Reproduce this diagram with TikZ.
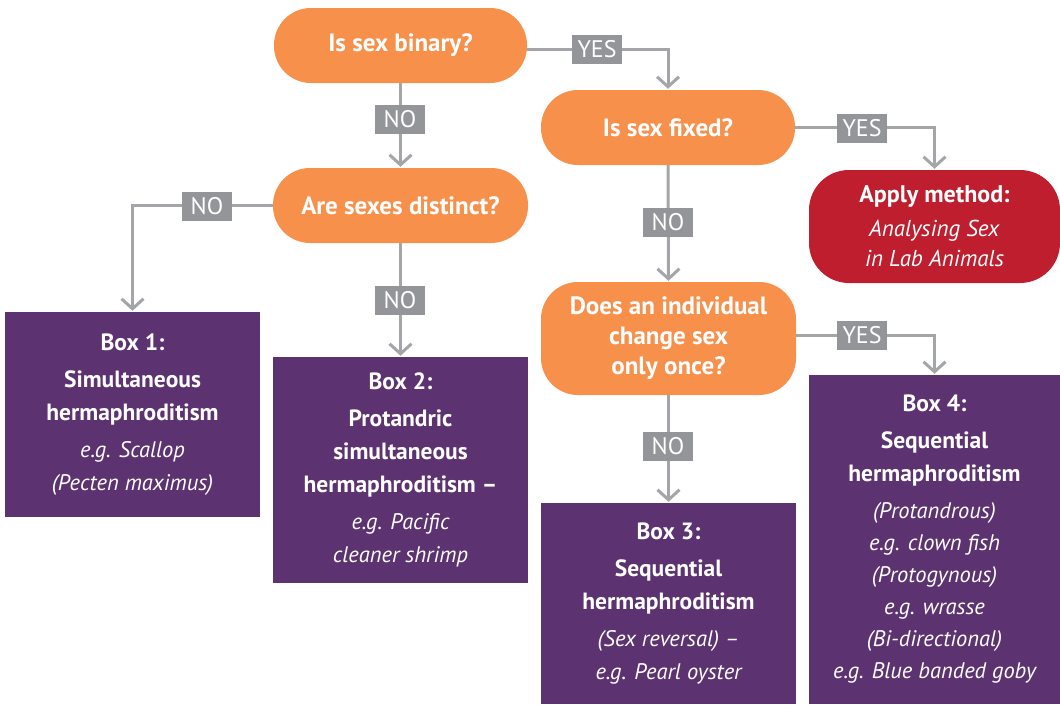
\documentclass[tikz,border=0pt]{standalone}
\usepackage{fontspec}
\setmainfont{PT Sans}
\usetikzlibrary{arrows.meta}
\definecolor{qorange}{HTML}{F6904B}
\definecolor{qred}{HTML}{BE1E2D}
\definecolor{bpurple}{HTML}{5C3370}
\definecolor{lgray}{HTML}{939598}
\definecolor{cgray}{HTML}{A3A5A8}
\newcommand{\bl}[1]{{\bfseries\fontsize{23.5}{33}\selectfont #1}}
\newcommand{\il}[1]{{\itshape\fontsize{22.5}{33}\selectfont #1}}
\begin{document}
\begin{tikzpicture}[x=1pt,y=-1pt,
  qnode/.style={fill=qorange, rounded corners=37pt, text=white, align=center, inner sep=0pt,
    font=\bfseries\fontsize{25}{30}\selectfont},
  anode/.style={fill=qred, rounded corners=40pt, text=white, align=center, inner sep=0pt,
    font=\fontsize{23}{30}\selectfont},
  bnode/.style={fill=bpurple, text=white, align=center, inner sep=0pt,
    font=\fontsize{23}{33}\selectfont},
  lab/.style={fill=lgray, text=white, inner sep=0pt, minimum width=50pt, minimum height=29pt,
    font=\fontsize{24}{24}\selectfont},
  conn/.style={draw=cgray, line width=3pt, shorten >=1pt,
    -{Straight Barb[length=10pt,width=22pt,line width=3pt]}}
]
\useasboundingbox (0,0) rectangle (1060,704);

% questions
\node[qnode, minimum width=253pt, minimum height=75pt] (q1) at (400.5,45.5) {Is sex binary?};
\node[qnode, minimum width=254pt, minimum height=75pt] (q2) at (668,127.5) {Is sex fixed?};
\node[qnode, minimum width=255pt, minimum height=75pt] (q3) at (400.5,205.5) {Are sexes distinct?};
\node[qnode, minimum width=255pt, minimum height=113pt] (q4) at (668.5,338.5)
  {Does an individual\\change sex\\only once?};
\node[anode, minimum width=251pt, minimum height=113pt] (ap) at (934.5,226.5)
  {{\bfseries\fontsize{24}{30}\selectfont Apply method:}\\[4pt]\textit{Analysing Sex}\\\textit{in Lab Animals}};

% boxes
\node[bnode, minimum width=255pt, minimum height=205pt] (b1) at (132.5,414.5)
  {\bl{Box 1:}\\[4pt]\bl{Simultaneous}\\\bl{hermaphroditism}\\[4pt]
   \il{e.g. Scallop}\\\il{(Pecten maximus)}};
\node[bnode, minimum width=255pt, minimum height=226pt] (b2) at (400.5,470)
  {\bl{Box 2:}\\[4pt]\bl{Protandric}\\\bl{simultaneous}\\\bl{hermaphroditism –}\\[4pt]
   \il{e.g. Pacific}\\\il{cleaner shrimp}};
\node[bnode, minimum width=255pt, minimum height=201pt] (b3) at (668.5,603.5)
  {\bl{Box 3:}\\[4pt]\bl{Sequential}\\\bl{hermaphroditism}\\[4pt]
   \il{(Sex reversal) –}\\\il{e.g. Pearl oyster}};
\node[bnode, minimum width=251pt, minimum height=329pt] (b4) at (934.5,539.5)
  {\bl{Box 4:}\\[4pt]\bl{Sequential}\\\bl{hermaphroditism}\\[4pt]
   \il{(Protandrous)}\\[-1pt]\il{e.g. clown fish}\\[-1pt]\il{(Protogynous)}\\[-1pt]
   \il{e.g. wrasse}\\[-1pt]\il{(Bi-directional)}\\[-1pt]\il{e.g. Blue banded goby}};

% connectors
\draw[conn] ([yshift=-4pt]q1.east) -| (q2.north);
\draw[conn] (q1.south) -- (q3.north);
\draw[conn] (q3.west) -| (b1.north);
\draw[conn] (q3.south) -- (b2.north);
\draw[conn] (q2.east) -| (ap.north);
\draw[conn] (q2.south) -- (q4.north);
\draw[conn] ([yshift=3pt]q4.east) -| (b4.north);
\draw[conn] (q4.south) -- (b3.north);

% labels
\node[lab] (l1) at (597,49) {YES};
\node[lab] (l2) at (400,119) {NO};
\node[lab] (l3) at (207,206) {NO};
\node[lab] (l4) at (400,300) {NO};
\node[lab] (l5) at (862,128) {YES};
\node[lab] (l6) at (668,222) {NO};
\node[lab] (l7) at (862,335) {YES};
\node[lab] (l8) at (668,446) {NO};
\end{tikzpicture}
\end{document}
